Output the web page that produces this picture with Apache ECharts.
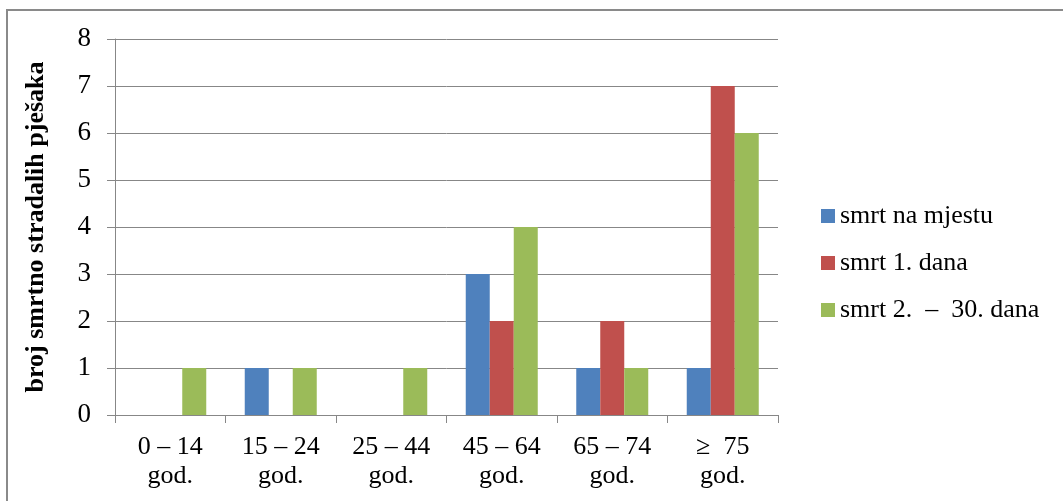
<!DOCTYPE html>
<html><head><meta charset="utf-8">
<script src="https://cdn.jsdelivr.net/npm/echarts@6/dist/echarts.min.js"></script>
<style>html,body{margin:0;padding:0;background:#fff}#c{width:1063px;height:501px}</style>
</head><body><div id="c"></div>
<script>
const categories = ['0 – 14\ngod.', '15 – 24\ngod.', '25 – 44\ngod.', '45 – 64\ngod.', '65 – 74\ngod.', '≥  75\ngod.'];
const seriesNames = ['smrt na mjestu', 'smrt 1. dana', 'smrt 2.  –  30. dana'];
const naMjestu = [0, 1, 0, 3, 1, 1];
const prviDan = [0, 0, 0, 2, 2, 7];
const drugiDo30 = [1, 1, 1, 4, 1, 6];
const yTicks = [0, 1, 2, 3, 4, 5, 6, 7, 8];
const colors = ['#4f81bd', '#c0504d', '#9bbb59'];
const font = '"Liberation Serif", "DejaVu Serif", serif';

const chart = echarts.init(document.getElementById('c'), null, {renderer: 'canvas'});
const data = [naMjestu, prviDan, drugiDo30];
chart.setOption({
  animation: false,
  textStyle: {fontFamily: font},
  graphic: [{type: 'rect', shape: {x: 7, y: 10, width: 1100, height: 600}, style: {fill: 'none', stroke: '#8a8a8a', lineWidth: 2}, z: 100}],
  grid: {left: 115, top: 39, right: 285, bottom: 86},
  legend: {
    orient: 'vertical', left: 821, top: 203, padding: 0,
    itemWidth: 14, itemHeight: 14, itemGap: 21,
    icon: 'rect',
    textStyle: {fontFamily: font, fontSize: 26, color: '#000', lineHeight: 26},
    data: seriesNames
  },
  xAxis: {
    type: 'category', data: categories,
    axisLine: {lineStyle: {color: '#878787', width: 1}},
    axisTick: {show: true, length: 8, lineStyle: {color: '#878787'}},
    axisLabel: {fontFamily: font, fontSize: 26, color: '#000', margin: 18, lineHeight: 29, interval: 0}
  },
  yAxis: {
    type: 'value', min: yTicks[0], max: yTicks[yTicks.length - 1], interval: 1,
    name: 'broj smrtno stradalih pješaka', nameLocation: 'middle', nameGap: 66,
    nameTextStyle: {fontFamily: font, fontSize: 26, fontWeight: 'bold', color: '#000'},
    axisLine: {show: true, lineStyle: {color: '#878787'}},
    axisTick: {show: true, length: 8, lineStyle: {color: '#878787'}},
    axisLabel: {fontFamily: font, fontSize: 27, color: '#000', margin: 24},
    splitLine: {lineStyle: {color: '#878787'}}
  },
  series: seriesNames.map((n, i) => ({
    name: n, type: 'bar', data: data[i], barWidth: 24, barGap: '0%',
    itemStyle: {color: colors[i]}
  }))
});
</script></body></html>
